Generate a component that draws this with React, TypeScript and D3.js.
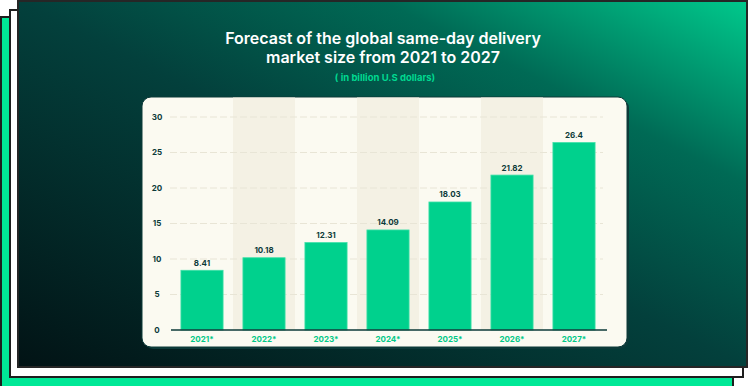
import * as d3 from "d3";

const W = 750;
const H = 386;

const years = ["2021*", "2022*", "2023*", "2024*", "2025*", "2026*", "2027*"];
const marketSize = [8.41, 10.18, 12.31, 14.09, 18.03, 21.82, 26.4];
const yTicks = [0, 5, 10, 15, 20, 25, 30];
const valueLabels = ["8.41", "10.18", "12.31", "14.09", "18.03", "21.82", "26.4"];

const ink = "#0c3a39";
const barGreen = "#00d18d";
const labelGreen = "#00c887";

// plot area inside the cream card
const plot = { left: 171, right: 605, top: 117, bottom: 330 };
const card = { x: 142, y: 97, w: 485, h: 250 };

export default function App() {
  const x = d3
    .scaleBand<string>()
    .domain(years)
    .range([plot.left, plot.right])
    .paddingInner(0.32)
    .paddingOuter(0.16);
  const y = d3.scaleLinear().domain([0, 30]).range([plot.bottom, plot.top]);
  const step = x.step();
  const font = "Inter, 'DejaVu Sans', sans-serif";

  return (
    <svg
      width={W}
      height={H}
      style={{ position: "absolute", left: 0, top: 0 }}
      fontFamily={font}
    >
      <defs>
        <linearGradient id="panel" x1="0" y1="1" x2="1" y2="0">
          <stop offset="0" stopColor="#021315" />
          <stop offset="0.5" stopColor="#03403c" />
          <stop offset="0.75" stopColor="#006a55" />
          <stop offset="1" stopColor="#00c98c" />
        </linearGradient>
      </defs>

      <rect width={W} height={H} fill="#ffffff" />
      {/* stacked frames */}
      <rect x={1} y={17} width={732} height={380} fill="#00e896" stroke="#1e1e1e" strokeWidth={2} />
      <rect x={10} y={10} width={733} height={367} fill="#ffffff" stroke="#1e1e1e" strokeWidth={2} />
      <rect x={18} y={1} width={729} height={366} fill="url(#panel)" stroke="#262626" strokeWidth={2} />

      {/* title */}
      <g fill="#ffffff" fontWeight={600} fontSize={16} textAnchor="middle">
        <text x={383} y={44}>Forecast of the global same-day delivery</text>
        <text x={383} y={63}>market size from 2021 to 2027</text>
      </g>
      <text x={385} y={81} fill="#00d890" fontWeight={700} fontSize={9.5} textAnchor="middle">
        ( in billion U.S dollars)
      </text>

      {/* card */}
      <rect x={card.x + 2} y={card.y + 2} width={card.w} height={card.h} rx={9} fill={ink} />
      <rect x={card.x} y={card.y} width={card.w} height={card.h} rx={9} fill="#fbfaf1" stroke={ink} strokeWidth={1} />

      {/* alternating column shading */}
      {years.map((yr, i) =>
        i % 2 === 1 ? (
          <rect
            key={"band" + yr}
            x={(x(yr) ?? 0) - step * 0.16}
            y={card.y + 0.5}
            width={step}
            height={plot.bottom - card.y - 0.5}
            fill="#f4f1e4"
          />
        ) : null
      )}

      {/* grid */}
      {yTicks
        .filter((t) => t > 0)
        .map((t) => (
          <line
            key={"g" + t}
            x1={170}
            x2={603}
            y1={y(t)}
            y2={y(t)}
            stroke="#e8e5d6"
            strokeWidth={1}
            strokeDasharray="7 3"
          />
        ))}

      {/* y tick labels */}
      {yTicks.map((t) => (
        <text
          key={"yt" + t}
          x={157}
          y={y(t)}
          dy="0.35em"
          fill={ink}
          fontSize={8}
          fontWeight={700}
          textAnchor="middle"
        >
          {t}
        </text>
      ))}

      {/* bars */}
      {years.map((yr, i) => (
        <g key={"bar" + yr}>
          <rect
            x={x(yr)}
            y={y(marketSize[i])}
            width={x.bandwidth()}
            height={y(0) - y(marketSize[i])}
            fill={barGreen}
            stroke="#3fe0a8"
            strokeWidth={0.8}
          />
          <text
            x={(x(yr) ?? 0) + x.bandwidth() / 2}
            y={y(marketSize[i]) - 4.5}
            fill={ink}
            fontSize={8}
            fontWeight={700}
            textAnchor="middle"
          >
            {valueLabels[i]}
          </text>
          <text
            x={(x(yr) ?? 0) + x.bandwidth() / 2}
            y={plot.bottom + 12}
            fill={labelGreen}
            fontSize={8}
            fontWeight={700}
            textAnchor="middle"
          >
            {yr}
          </text>
        </g>
      ))}

      {/* baseline */}
      <line x1={171} x2={607} y1={plot.bottom} y2={plot.bottom} stroke={ink} strokeWidth={1.5} />
    </svg>
  );
}
